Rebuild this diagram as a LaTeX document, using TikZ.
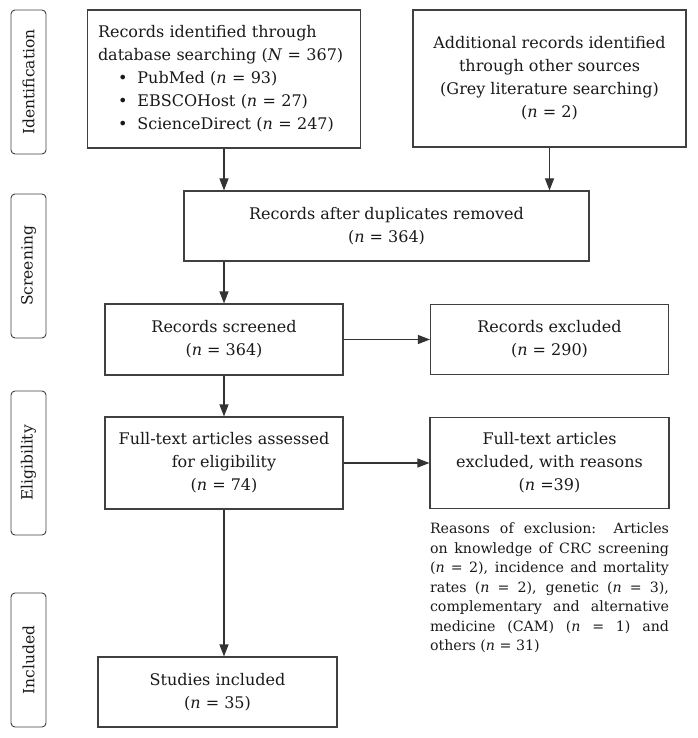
\documentclass[tikz,border=0pt]{standalone}
\usepackage{fontspec}
\setmainfont{DejaVu Serif}
\usetikzlibrary{arrows.meta}

\tikzset{
  phase/.style={draw=black!75, line width=0.9pt, rounded corners=4pt, rotate=90,
    minimum height=35pt, inner sep=0pt, font=\fontsize{15.5}{17}\selectfont},
  stepbox/.style={draw=black!75, line width=1.1pt, inner sep=0pt, align=center,
    font=\fontsize{16}{23}\selectfont},
  note/.style={inner sep=0pt, text width=239pt, align=justify,
    font=\fontsize{14.2}{19.5}\selectfont},
  flow/.style={draw=black!80, line width=1.1pt, -{Triangle[length=12pt,width=9pt]}}
}

\newcommand{\nn}{\textit{n}}

\begin{document}
\begin{tikzpicture}[x=1pt, y=-1pt, text=black!90]
		\useasboundingbox (0,0) rectangle (697,738);

		% phase labels
		\path (28.5,82) node[phase, minimum width=144pt] (lid) {Identification}
		(28.5,266) node[phase, minimum width=144pt] (lscr) {Screening}
		(28.5,463) node[phase, minimum width=144pt] (lel) {Eligibility}
		(28.5,660) node[phase, minimum width=134pt] (linc) {Included};

		% boxes
		\path (224,79) node[stepbox, minimum width=273pt, minimum height=138pt,
				text width=252pt, align=left] (rec)
			{Records identified through\\
			database searching (\textit{N} = 367)\\
			\hspace*{20pt}\textbullet\hspace{10pt}PubMed (\nn{} = 93)\\
			\hspace*{20pt}\textbullet\hspace{10pt}EBSCOHost (\nn{} = 27)\\
			\hspace*{20pt}\textbullet\hspace{10pt}ScienceDirect (\nn{} = 247)}
		(549.5,78.5) node[stepbox, minimum width=273pt, minimum height=137pt] (more)
			{Additional records identified\\ through other sources\\
			(Grey literature searching)\\ (\nn{} = 2)}
		(386.5,226) node[stepbox, minimum width=405pt, minimum height=70pt] (dup)
			{Records after duplicates removed\\ (\nn{} = 364)}
		(224,339.5) node[stepbox, minimum width=238pt, minimum height=71pt] (scr)
			{Records screened\\ (\nn{} = 364)}
		(549.5,339.5) node[stepbox, minimum width=238pt, minimum height=70pt] (exc)
			{Records excluded\\ (\nn{} = 290)}
		(224,463) node[stepbox, minimum width=238pt, minimum height=92pt] (full)
			{Full-text articles assessed\\ for eligibility\\ (\nn{} = 74)}
		(549.5,463) node[stepbox, minimum width=239pt, minimum height=91pt] (fexc)
			{Full-text articles\\ excluded, with reasons\\ (\nn{} =39)}
		(217.5,692) node[stepbox, minimum width=239pt, minimum height=70pt] (incl)
			{Studies included\\ (\nn{} = 35)}
		(549.5,588) node[note] (why)
			{Reasons of exclusion: Articles\linebreak
			on knowledge of CRC screening\linebreak
			(\nn{} = 2), incidence and mortality\linebreak
			rates (\nn{} = 2), genetic (\nn{} = 3),\linebreak
			complementary and alternative\linebreak
			medicine (CAM) (\nn{} = 1) and\linebreak
			others (\nn{} = 31)};

		\draw[flow] (rec.south) -- (rec.south |- dup.north);
		\draw[flow] (more.south) -- (more.south |- dup.north);
		\draw[flow] (dup.south -| scr.north) -- (scr.north);
		\draw[flow] (scr.east) -- (exc.west);
		\draw[flow] (scr.south) -- (full.north);
		\draw[flow] (full.east) -- (fexc.west);
		\draw[flow] (full.south) -- (full.south |- incl.north);
	\end{tikzpicture}
\end{document}
